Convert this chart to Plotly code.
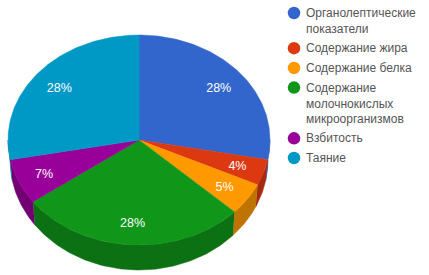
import numpy as np
import plotly.graph_objects as go

categories = ["Органолептические<br>показатели", "Содержание жира", "Содержание белка",
              "Содержание<br>молочнокислых<br>микроорганизмов", "Взбитость", "Таяние"]
values = [28, 4, 5, 28, 7, 28]
top_colors = ["#3366CC", "#DC3912", "#FF9900", "#109618", "#990099", "#0099C6"]
wall_colors = ["#264d99", "#a52b0e", "#bf7300", "#0c7112", "#730073", "#007394"]

CX, CY, RX, RY = 139, 140, 131, 105
BOTTOM_CY, BOTTOM_RX, BOTTOM_RY = 160, 129, 110
W, H = 429, 275
LABEL_R, LABEL_DY = 0.79, 1.5
LEG_MARK_X, LEG_TEXT_X, LEG_Y0, LINE_H, LEG_GAP = 294, 305, 13, 15.5, 4.2


def arc(a0, a1, cy=CY, rx=RX, ry=RY):
    t = np.radians(np.linspace(a0, a1, max(2, int(abs(a1 - a0)) + 2)))
    return CX + rx * np.sin(t), cy - ry * np.cos(t)


edges = np.concatenate([[0], np.cumsum(values)]) * 360 / sum(values)
fig = go.Figure()

# side walls: only the front half of the rim is visible
for i in range(len(values)):
    a0, a1 = max(edges[i], 90), min(edges[i + 1], 270)
    if a1 <= a0:
        continue
    xt, yt = arc(a0, a1)
    xb, yb = arc(a1, a0, BOTTOM_CY, BOTTOM_RX, BOTTOM_RY)
    fig.add_trace(go.Scatter(x=np.r_[xt, xb], y=np.r_[yt, yb], mode="lines", fill="toself",
                             fillcolor=wall_colors[i], line=dict(width=0.5, color=wall_colors[i]),
                             showlegend=False, hoverinfo="skip"))

# top face
for i in range(len(values)):
    x, y = arc(edges[i], edges[i + 1])
    fig.add_trace(go.Scatter(x=np.r_[CX, x, CX], y=np.r_[CY, y, CY], mode="lines", fill="toself",
                             fillcolor=top_colors[i], line=dict(width=0.5, color=top_colors[i]),
                             showlegend=False, hoverinfo="skip"))

# percentage labels
mid = np.radians((edges[:-1] + edges[1:]) / 2)
fig.add_trace(go.Scatter(x=CX + LABEL_R * RX * np.sin(mid),
                         y=CY + LABEL_DY - LABEL_R * RY * np.cos(mid), mode="text",
                         text=[f"{v}%" for v in values],
                         textfont=dict(family="Liberation Sans", size=12.5, color="#ffffff"),
                         showlegend=False, hoverinfo="skip"))

# legend, stacked by the number of lines in each entry
y = LEG_Y0
for name, color in zip(categories, top_colors):
    n = name.count("<br>") + 1
    fig.add_trace(go.Scatter(x=[LEG_MARK_X], y=[y], mode="markers", name=name, showlegend=False,
                             marker=dict(size=12.5, color=color, symbol="circle", line=dict(width=0))))
    fig.add_annotation(x=LEG_TEXT_X, y=y + (n - 1) * LINE_H / 2, text=name, showarrow=False,
                       xanchor="left", yanchor="middle", align="left", xshift=-1,
                       font=dict(family="Liberation Sans", size=12, color="#555555"))
    y += n * LINE_H + LEG_GAP

fig.update_layout(
    width=W, height=H, autosize=False, margin=dict(l=0, r=0, t=0, b=0),
    paper_bgcolor="white", plot_bgcolor="white",
    xaxis=dict(range=[0, W], visible=False, fixedrange=True),
    yaxis=dict(range=[H, 0], visible=False, fixedrange=True),
    showlegend=False,
)
fig.write_html("out.html", config={"displayModeBar": False},
               post_script="document.body.style.margin='0';document.documentElement.style.overflow='hidden';")
